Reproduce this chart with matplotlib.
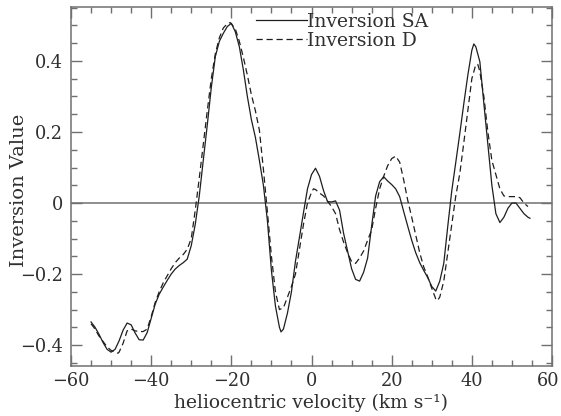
import numpy as np
import matplotlib
matplotlib.use("Agg")
import matplotlib.pyplot as plt
import matplotlib.transforms as mtransforms
from matplotlib.ticker import MultipleLocator, FixedLocator

plt.rcParams['font.family'] = ['DejaVu Serif']
plt.rcParams['mathtext.fontset'] = 'dejavuserif'

# --- data ---
vel_sa = [-55, -54, -53, -52, -51, -50, -49, -48, -47, -46, -45, -44, -43, -42, -41,
          -40, -39, -38, -37, -36, -35, -34, -33, -32, -31, -30, -29, -28, -27, -26,
          -25, -24, -23, -22, -21, -20, -19, -18, -17, -16, -15, -14, -13, -12, -11,
          -10, -9, -8, -7.6, -7, -6, -5, -4, -3, -2, -1, 0, 1, 2, 3, 4, 5, 6, 7, 8, 9,
          10, 11, 12, 13, 14, 15, 16, 17, 18, 19, 20, 21, 22, 23, 24, 25, 26, 27, 28,
          29, 30, 31, 32, 33, 34, 35, 36, 37, 38, 39, 40, 40.5, 41, 42, 43, 44, 45, 46,
          47, 48, 49, 50, 51, 52, 53, 54, 54.5]
inv_sa = [-0.335, -0.350, -0.370, -0.393, -0.412, -0.420, -0.412, -0.388, -0.358, -0.338,
          -0.343, -0.366, -0.385, -0.386, -0.365, -0.325, -0.285, -0.257, -0.237, -0.218,
          -0.200, -0.186, -0.176, -0.168, -0.158, -0.120, -0.060, 0.020, 0.120, 0.220,
          0.325, 0.412, 0.455, 0.478, 0.497, 0.506, 0.482, 0.440, 0.375, 0.300, 0.235,
          0.185, 0.120, 0.050, -0.050, -0.190, -0.290, -0.350, -0.363, -0.355, -0.310,
          -0.250, -0.164, -0.096, -0.027, 0.040, 0.080, 0.098, 0.075, 0.035, 0.004,
          0.003, 0.006, -0.020, -0.085, -0.135, -0.185, -0.215, -0.220, -0.195, -0.155,
          -0.065, 0.020, 0.060, 0.074, 0.062, 0.052, 0.040, 0.018, -0.024, -0.065,
          -0.105, -0.140, -0.168, -0.190, -0.210, -0.235, -0.248, -0.220, -0.170,
          -0.065, 0.035, 0.115, 0.196, 0.280, 0.360, 0.430, 0.448, 0.440, 0.398, 0.280,
          0.165, 0.050, -0.030, -0.055, -0.040, -0.015, 0.000, 0.000, -0.015, -0.030,
          -0.040, -0.043]

vel_d = [-55, -54, -53, -52, -51, -50, -49, -48.3, -48, -47, -46, -45, -44, -43, -42,
         -41, -40, -39, -38, -37, -36, -35, -34, -33, -32, -31, -30, -29, -28, -27,
         -26, -25, -24, -23, -22, -21, -20.3, -20, -19, -18, -17, -16, -15, -14, -13,
         -12, -11, -10, -9, -8, -7, -6, -5, -4, -3, -2, -1, 0, 0.5, 1, 2, 3, 4, 5, 6,
         7, 8, 9, 10, 11, 12, 13, 14, 15, 16, 17, 18, 19, 20, 21, 22, 23, 24, 25, 26,
         27, 28, 29, 30, 31, 31.4, 32, 33, 34, 35, 36, 37, 38, 39, 40, 41, 41.5, 42,
         43, 44, 45, 46, 47, 48, 49, 50, 51, 52, 53, 54]
inv_d = [-0.340, -0.355, -0.375, -0.390, -0.405, -0.415, -0.420, -0.423, -0.420, -0.395,
         -0.360, -0.355, -0.360, -0.362, -0.362, -0.355, -0.320, -0.280, -0.250, -0.225,
         -0.205, -0.185, -0.168, -0.155, -0.145, -0.130, -0.100, -0.020, 0.070, 0.165,
         0.260, 0.350, 0.420, 0.465, 0.493, 0.505, 0.508, 0.505, 0.490, 0.455, 0.410,
         0.360, 0.305, 0.260, 0.205, 0.095, -0.025, -0.150, -0.250, -0.300, -0.295,
         -0.265, -0.235, -0.200, -0.130, -0.060, 0.000, 0.030, 0.040, 0.038, 0.028,
         0.020, 0.005, -0.010, -0.030, -0.075, -0.110, -0.140, -0.165, -0.170, -0.155,
         -0.135, -0.105, -0.076, -0.015, 0.040, 0.075, 0.105, 0.125, 0.132, 0.115,
         0.065, 0.008, -0.040, -0.090, -0.140, -0.180, -0.208, -0.240, -0.270, -0.275,
         -0.265, -0.220, -0.140, -0.060, 0.020, 0.083, 0.170, 0.260, 0.350, 0.390,
         0.390, 0.370, 0.300, 0.200, 0.120, 0.080, 0.040, 0.020, 0.018, 0.018, 0.018,
         0.015, 0.000, -0.010]

xticks = [-60, -40, -20, 0, 20, 40, 60]
xtick_labels = ['\u221260', '\u221240', '\u221220', '0', '20', '40', '60']
yticks = [-0.4, -0.2, 0, 0.2, 0.4]
ytick_labels = ['\u22120.4', '\u22120.2', '0', '0.2', '0.4']

frame_col = '#707070'
line_col = '#1e1e1e'
text_col = '#303030'

fig = plt.figure(figsize=(5.61, 4.16), dpi=100)
ax = fig.add_axes([71/561, 50/416, 481/561, 359/416])

ax.axhline(0, color=frame_col, lw=1.1, zorder=1)
ax.plot(vel_sa, inv_sa, color=line_col, lw=0.9, label='Inversion SA', zorder=3)
ax.plot(vel_d, inv_d, color=line_col, lw=0.9, ls=(0, (5, 3)), label='Inversion D', zorder=3)

ax.set_xlim(-60, 60)
ax.set_ylim(-0.459, 0.552)
ax.xaxis.set_major_locator(FixedLocator(xticks))
ax.set_xticklabels(xtick_labels)
ax.xaxis.set_minor_locator(MultipleLocator(5))
ax.yaxis.set_major_locator(FixedLocator(yticks))
ax.set_yticklabels(ytick_labels)
ax.yaxis.set_minor_locator(MultipleLocator(0.05))

ax.tick_params(which='both', direction='in', top=True, right=True, color=frame_col,
               width=1.0, labelsize=12.8, labelcolor=text_col)
ax.tick_params(which='major', length=8, pad=6)
ax.tick_params(axis='x', which='major', pad=4.5)
ax.tick_params(which='minor', length=4)
for s in ax.spines.values():
    s.set_color(frame_col)
    s.set_linewidth(1.1)

# nudge the right-most x tick label slightly left so it stays inside the canvas
last = ax.get_xticklabels()[-1]
last.set_transform(last.get_transform() + mtransforms.ScaledTranslation(-4/100, 0, fig.dpi_scale_trans))

ax.set_xlabel('heliocentric velocity (km s\u207b\u00b9)', fontsize=13.5, color=text_col)
ax.xaxis.set_label_coords(0.5, -0.076)
ax.set_ylabel('Inversion Value', fontsize=14, color=text_col)
ax.yaxis.set_label_coords(-0.108, 0.49)
ax.yaxis.label.set_verticalalignment('center')

leg = ax.legend(loc='upper left', bbox_to_anchor=(256/561, 1 - 13/416), bbox_transform=fig.transFigure,
                frameon=False, handlelength=2.7, handletextpad=0.0, borderpad=0,
                borderaxespad=0, labelspacing=0.05, fontsize=13.5)
for t in leg.get_texts():
    t.set_color(text_col)

fig.savefig('out.png', dpi=100)
